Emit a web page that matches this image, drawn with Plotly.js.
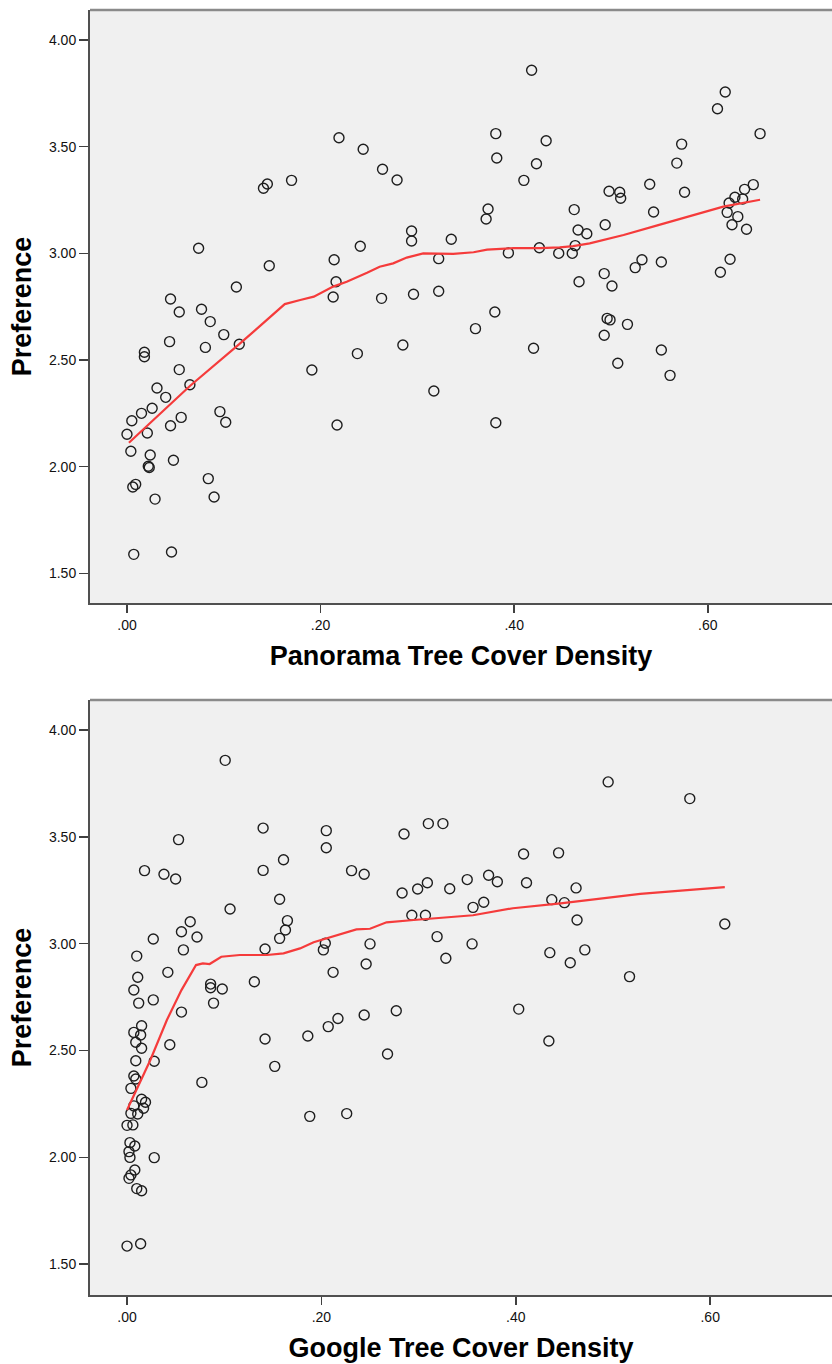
<!DOCTYPE html>
<html>
<head>
<meta charset="utf-8">
<script src="https://cdn.plot.ly/plotly-3.0.1.min.js"></script>
<style>
html,body{margin:0;padding:0;background:#fff;overflow:hidden;}
#chart{width:832px;height:1364px;}
</style>
</head>
<body>
<div id="chart"></div>
<script>
// ---- Panorama tree cover density vs preference ----
const panoramaX = [0.141,0.145,0.170,0.074,0.147,0.113,0.045,0.054,0.077,0.086,
  0.418,0.219,0.244,0.264,0.279,0.381,0.382,0.433,0.423,0.410,
  0.373,0.371,0.294,0.294,0.335,0.241,0.214,0.216,0.213,0.263,
  0.296,0.322,0.322,0.394,0.426,0.446,0.380,0.618,0.610,0.654,
  0.573,0.568,0.540,0.576,0.498,0.509,0.510,0.462,0.544,0.494,
  0.466,0.475,0.463,0.460,0.647,0.638,0.628,0.636,0.622,0.620,
  0.631,0.625,0.640,0.623,0.613,0.532,0.525,0.552,0.493,0.467,
  0.501,0.496,0.499,0.100,0.116,0.044,0.081,0.018,0.018,0.054,
  0.065,0.031,0.040,0.015,0.026,0.005,0.056,0.045,0.096,0.102,
  0.000,0.021,0.004,0.024,0.022,0.023,0.048,0.084,0.090,0.006,
  0.009,0.029,0.007,0.046,0.360,0.285,0.238,0.191,0.420,0.317,
  0.217,0.381,0.517,0.493,0.552,0.507,0.561];
const panoramaPref = [3.305,3.325,3.342,3.024,2.942,2.842,2.786,2.725,2.738,2.680,
  3.858,3.542,3.488,3.394,3.344,3.561,3.447,3.528,3.420,3.342,
  3.208,3.161,3.105,3.058,3.066,3.033,2.970,2.867,2.795,2.789,
  2.808,2.822,2.975,3.002,3.026,3.000,2.725,3.756,3.678,3.561,
  3.512,3.423,3.324,3.286,3.291,3.286,3.258,3.205,3.194,3.134,
  3.109,3.092,3.036,3.000,3.322,3.300,3.263,3.255,3.236,3.192,
  3.172,3.134,3.113,2.972,2.911,2.970,2.933,2.959,2.905,2.867,
  2.847,2.695,2.688,2.619,2.574,2.586,2.559,2.536,2.515,2.455,
  2.384,2.369,2.325,2.250,2.274,2.215,2.231,2.192,2.258,2.208,
  2.152,2.158,2.072,2.055,2.002,1.996,2.030,1.944,1.858,1.905,
  1.917,1.848,1.589,1.600,2.647,2.570,2.530,2.453,2.555,2.355,
  2.195,2.206,2.667,2.616,2.547,2.485,2.428];
// loess fit line
const panoramaFitX = [0.002,0.065,0.116,0.144,0.163,0.179,0.193,0.213,0.227,0.248,
  0.261,0.275,0.289,0.306,0.337,0.358,0.372,0.399,0.427,0.447,
  0.461,0.478,0.513,0.547,0.582,0.616,0.654];
const panoramaFitY = [2.112,2.378,2.574,2.688,2.762,2.781,2.797,2.844,2.867,2.909,
  2.937,2.953,2.980,3.000,2.997,3.005,3.017,3.024,3.024,3.028,
  3.034,3.047,3.086,3.130,3.175,3.219,3.251];

// ---- Google tree cover density vs preference ----
const googleX = [0.101,0.140,0.053,0.161,0.018,0.038,0.050,0.140,0.157,0.106,
  0.065,0.056,0.072,0.027,0.165,0.163,0.157,0.142,0.058,0.010,
  0.011,0.042,0.007,0.086,0.086,0.098,0.131,0.012,0.027,0.089,
  0.056,0.205,0.205,0.231,0.244,0.285,0.310,0.325,0.408,0.444,
  0.283,0.299,0.309,0.332,0.350,0.372,0.381,0.411,0.356,0.367,
  0.437,0.293,0.307,0.204,0.202,0.250,0.246,0.212,0.319,0.328,
  0.355,0.435,0.217,0.244,0.277,0.403,0.495,0.579,0.462,0.450,
  0.463,0.615,0.471,0.456,0.517,0.015,0.007,0.014,0.009,0.015,
  0.044,0.142,0.009,0.028,0.152,0.007,0.009,0.077,0.004,0.015,
  0.019,0.017,0.007,0.004,0.011,0.000,0.006,0.003,0.008,0.002,
  0.003,0.028,0.008,0.004,0.002,0.010,0.015,0.000,0.014,0.186,
  0.207,0.268,0.434,0.188,0.226];
const googlePref = [3.858,3.541,3.487,3.393,3.342,3.325,3.303,3.343,3.208,3.162,
  3.103,3.056,3.031,3.022,3.108,3.064,3.025,2.975,2.971,2.942,
  2.843,2.866,2.783,2.811,2.794,2.788,2.822,2.722,2.737,2.722,
  2.680,3.529,3.449,3.342,3.325,3.513,3.562,3.562,3.420,3.425,
  3.237,3.256,3.285,3.257,3.300,3.320,3.290,3.285,3.170,3.194,
  3.206,3.133,3.133,3.002,2.971,2.999,2.905,2.866,3.033,2.932,
  2.999,2.958,2.650,2.666,2.686,2.694,3.757,3.679,3.261,3.192,
  3.111,3.092,2.971,2.911,2.846,2.616,2.585,2.573,2.539,2.511,
  2.527,2.554,2.452,2.450,2.426,2.381,2.367,2.351,2.323,2.272,
  2.258,2.230,2.241,2.206,2.203,2.150,2.152,2.069,2.053,2.027,
  2.000,1.999,1.941,1.918,1.902,1.854,1.844,1.585,1.596,2.568,
  2.612,2.484,2.545,2.192,2.205];
const googleFitX = [0.000,0.024,0.041,0.056,0.071,0.078,0.085,0.097,0.116,0.144,
  0.161,0.178,0.192,0.209,0.236,0.250,0.267,0.295,0.322,0.356,
  0.397,0.446,0.528,0.615];
const googleFitY = [2.222,2.456,2.643,2.783,2.900,2.908,2.905,2.939,2.947,2.947,
  2.955,2.978,3.007,3.030,3.067,3.070,3.100,3.111,3.122,3.133,
  3.166,3.189,3.233,3.265];

// ---- ticks ----
const xTickVals = [0, 0.2, 0.4, 0.6];
const xTickText = ['.00', '.20', '.40', '.60'];
const yTickVals = [1.5, 2.0, 2.5, 3.0, 3.5, 4.0];
const yTickText = ['1.50', '2.00', '2.50', '3.00', '3.50', '4.00'];

const FONT = 'Liberation Sans, Arial, Helvetica, sans-serif';
const markerStyle = {symbol: 'circle-open', size: 10, color: '#1e1e1e', line: {width: 1.4, color: '#1e1e1e'}};
const lineStyle = {color: '#f53b3b', width: 2.2, shape: 'linear'};

const traces = [
  {x: panoramaX, y: panoramaPref, type: 'scatter', mode: 'markers', marker: markerStyle,
   xaxis: 'x', yaxis: 'y', name: 'Panorama', hoverinfo: 'x+y'},
  {x: panoramaFitX, y: panoramaFitY, type: 'scatter', mode: 'lines', line: lineStyle,
   xaxis: 'x', yaxis: 'y', name: 'Panorama fit'},
  {x: googleX, y: googlePref, type: 'scatter', mode: 'markers', marker: markerStyle,
   xaxis: 'x2', yaxis: 'y2', name: 'Google', hoverinfo: 'x+y'},
  {x: googleFitX, y: googleFitY, type: 'scatter', mode: 'lines', line: lineStyle,
   xaxis: 'x2', yaxis: 'y2', name: 'Google fit'}
];

function xAxis(title, range, anchor) {
  return {
    anchor: anchor, domain: [0, 1], range: range,
    showgrid: false, zeroline: false, showline: true, linecolor: '#505050', linewidth: 2,
    ticks: 'outside', ticklen: 8, tickwidth: 1.5, tickcolor: '#404040',
    tickvals: xTickVals, ticktext: xTickText,
    tickfont: {family: FONT, size: 14, color: '#111'},
    title: {text: title, font: {family: FONT, size: 27, color: '#000', weight: 700}, standoff: 14},
    automargin: false, fixedrange: true
  };
}
function yAxis(title, range, domain, anchor) {
  return {
    anchor: anchor, domain: domain, range: range,
    showgrid: false, zeroline: false, showline: true, linecolor: '#505050', linewidth: 2,
    ticks: 'outside', ticklen: 9, tickwidth: 1.5, tickcolor: '#404040',
    tickvals: yTickVals, ticktext: yTickText,
    tickfont: {family: FONT, size: 14, color: '#111'},
    title: {text: title, font: {family: FONT, size: 27, color: '#000', weight: 700}, standoff: 9},
    automargin: false, fixedrange: true
  };
}

const layout = {
  width: 832, height: 1364,
  margin: {l: 90, r: 0, t: 10, b: 69, pad: 0},
  paper_bgcolor: '#ffffff', plot_bgcolor: '#f0f0f0',
  showlegend: false,
  font: {family: FONT, color: '#111'},
  xaxis: xAxis('Panorama Tree Cover Density', [-0.0382, 0.7283], 'y'),
  yaxis: yAxis('Preference', [1.3609, 4.1406], [0.53852, 1], 'x'),
  xaxis2: xAxis('Google Tree Cover Density', [-0.0381, 0.7253], 'y2'),
  yaxis2: yAxis('Preference', [1.3561, 4.1404], [0, 0.46304], 'x2'),
  shapes: [
    {type: 'line', xref: 'paper', yref: 'paper', x0: 0, x1: 1, y0: 1, y1: 1,
     line: {color: '#8a8a8a', width: 2.5}},
    {type: 'line', xref: 'paper', yref: 'paper', x0: 0, x1: 1, y0: 0.46304, y1: 0.46304,
     line: {color: '#8a8a8a', width: 2.5}}
  ]
};

Plotly.newPlot('chart', traces, layout, {displayModeBar: false, staticPlot: true});
</script>
</body>
</html>
